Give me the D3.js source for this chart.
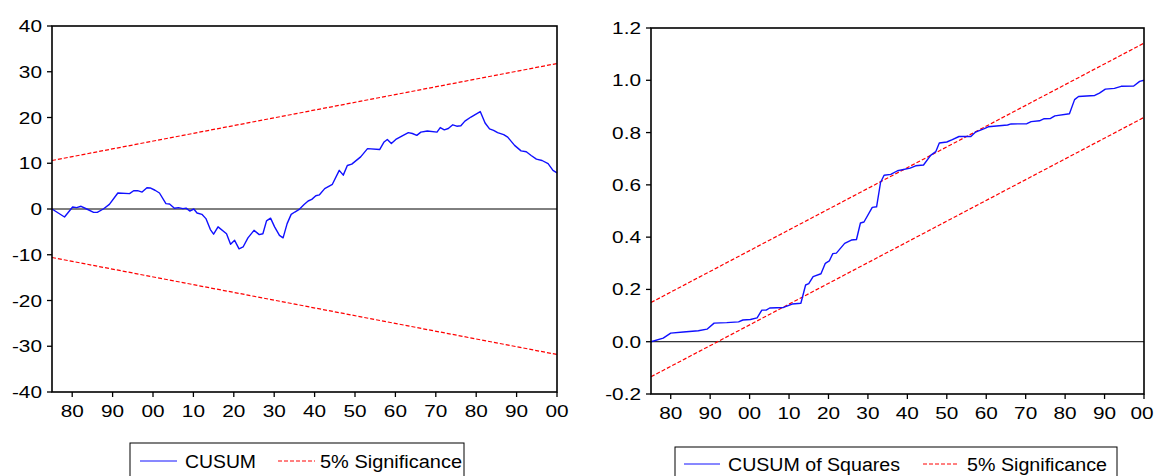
<!DOCTYPE html>
<html>
<head>
<meta charset="utf-8">
<script src="https://cdn.jsdelivr.net/npm/d3@7"></script>
<style>
  html, body { margin: 0; padding: 0; background: #fff; }
  svg text { font-family: "Liberation Sans", Arial, sans-serif; fill: #000; }
</style>
</head>
<body>
<svg id="chart" width="1154" height="476"></svg>
<script>
// ---------- DATA ----------
const cusumYears = [1975,1978.1,1980.1,1981.1,1982.2,1983.6,1985.3,1986.2,1987.7,1989.2,1991.3,1994.2,1995.2,1996.2,1997.3,1998.5,1999.3,2000.5,2001.6,2003.2,2004.1,2005.3,2006.3,2007.4,2008.2,2009.1,2010.1,2010.9,2012.1,2013.1,2014.2,2015.0,2016.1,2018.2,2019.2,2020.2,2021.3,2022.3,2023.5,2025.0,2026.3,2027.2,2028.1,2029.1,2030.1,2031.3,2032.2,2033.2,2034.2,2035.1,2036.1,2037.4,2038.4,2039.3,2040.3,2041.2,2042.5,2044.4,2046.1,2047.1,2048.1,2049.2,2051.4,2053.1,2056.1,2057.2,2058.0,2059.0,2060.1,2061.7,2063.2,2064.2,2065.3,2066.3,2067.9,2070.3,2071.1,2072.1,2073.1,2074.2,2075.2,2076.2,2077.2,2078.7,2081.0,2082.2,2083.3,2084.3,2085.3,2086.8,2087.8,2089.5,2091.1,2092.4,2093.6,2094.9,2096.3,2097.8,2099.0,2100];
const cusumValues = [0,-1.75,0.44,0.3,0.6,0,-0.73,-0.73,0,1.0,3.5,3.35,4.0,4.0,3.7,4.66,4.6,4.1,3.5,1.17,1.1,0.15,0.3,0.07,0.2,-0.44,0,-0.87,-1.17,-2.1,-4.5,-5.5,-3.9,-5.4,-7.7,-6.85,-8.7,-8.3,-6.3,-4.66,-5.6,-5.4,-2.6,-2.0,-3.9,-5.75,-6.3,-3.2,-1.17,-0.66,-0.15,1.0,1.75,2.1,2.9,3.1,4.45,5.4,8.45,7.4,9.5,9.8,11.4,13.2,13.0,14.65,15.2,14.3,15.2,16.0,16.7,16.5,16.1,16.8,17.05,16.8,17.8,17.3,17.6,18.4,18.1,18.2,19.2,20.1,21.3,18.8,17.5,17.2,16.7,16.25,15.7,13.9,12.7,12.5,11.7,10.9,10.6,9.9,8.45,7.9];

const sqYears = [1975,1978.1,1980.0,1983.2,1987.0,1989.2,1991.0,1994.2,1997.2,1998.3,2000.2,2001.9,2003.1,2004.2,2005.1,2008.6,2010.8,2013.0,2014.2,2015.0,2016.1,2018.1,2019.2,2020.2,2021.1,2022.0,2024.1,2025.8,2027.1,2028.1,2029.0,2031.1,2032.2,2033.2,2034.1,2035.8,2037.5,2040.7,2042.1,2044.1,2045.9,2047.2,2048.1,2050.0,2051.4,2053.1,2056.1,2057.3,2059.5,2060.5,2065.4,2066.3,2070.3,2071.4,2073.5,2074.7,2076.3,2077.4,2081.1,2082.4,2083.4,2087.5,2088.7,2090.2,2092.5,2094.2,2097.4,2098.9,2100];
const sqValues = [0,0.014,0.033,0.037,0.042,0.048,0.071,0.073,0.076,0.083,0.085,0.091,0.121,0.121,0.129,0.131,0.144,0.147,0.217,0.222,0.249,0.26,0.30,0.309,0.337,0.339,0.376,0.389,0.391,0.454,0.458,0.514,0.516,0.609,0.637,0.64,0.654,0.664,0.673,0.676,0.713,0.727,0.76,0.764,0.773,0.785,0.785,0.802,0.815,0.822,0.829,0.833,0.834,0.842,0.845,0.853,0.854,0.864,0.872,0.926,0.938,0.942,0.951,0.966,0.969,0.977,0.978,0.996,1.0];

const boundYears = [1975, 2100];
const cusumUpper = [10.6, 31.8];
const cusumLower = [-10.6, -31.8];
const sqUpper = [0.15, 1.142];
const sqLower = [-0.134, 0.858];

const xTickYears = [1980,1990,2000,2010,2020,2030,2040,2050,2060,2070,2080,2090,2100];
const cusumYTicks = [-40,-30,-20,-10,0,10,20,30,40];
const sqYTicks = [-0.2,0,0.2,0.4,0.6,0.8,1.0,1.2];

const legend1 = ["CUSUM", "5% Significance"];
const legend2 = ["CUSUM of Squares", "5% Significance"];

// ---------- DRAW ----------
const svg = d3.select("#chart");
const BLUE = "#1010ff", RED = "#ff0000";
const SX = 1.3; // horizontal text stretch
const hy = f => v => f(v).replace("\u2212", "-");

function panel(cfg) {
  const x = d3.scaleLinear().domain([1975, 2100]).range([cfg.x0, cfg.x1]);
  const y = d3.scaleLinear().domain(cfg.yDomain).range([cfg.y1, cfg.y0]);
  const g = svg.append("g");

  // zero line
  g.append("line")
    .attr("x1", cfg.x0).attr("x2", cfg.x1)
    .attr("y1", y(0)).attr("y2", y(0))
    .attr("stroke", "#000").attr("stroke-width", 1);

  // bounds
  const line = d3.line().x(d => x(d[0])).y(d => y(d[1]));
  [cfg.upper, cfg.lower].forEach(b => {
    g.append("path")
      .datum(boundYears.map((yr, i) => [yr, b[i]]))
      .attr("d", line)
      .attr("fill", "none").attr("stroke", RED)
      .attr("stroke-width", 1.2).attr("stroke-dasharray", "4,2");
  });

  // series
  g.append("path")
    .datum(cfg.years.map((yr, i) => [yr, cfg.values[i]]))
    .attr("d", line)
    .attr("fill", "none").attr("stroke", BLUE)
    .attr("stroke-width", 1.4).attr("stroke-linejoin", "round");

  // frame
  g.append("rect")
    .attr("x", cfg.x0).attr("y", cfg.y0)
    .attr("width", cfg.x1 - cfg.x0).attr("height", cfg.y1 - cfg.y0)
    .attr("fill", "none").attr("stroke", "#000").attr("stroke-width", 1.6);

  // y ticks
  const ya = g.append("g");
  cfg.yTicks.forEach(t => {
    ya.append("line").attr("x1", cfg.x0 - 5).attr("x2", cfg.x0)
      .attr("y1", y(t)).attr("y2", y(t)).attr("stroke", "#000").attr("stroke-width", 1.3);
    ya.append("text")
      .attr("transform", `translate(${cfg.x0 - 10},${y(t) + 6}) scale(${SX},1)`)
      .attr("text-anchor", "end").attr("font-size", 16)
      .text(cfg.yFmt(t));
  });
  // x ticks
  const xa = g.append("g");
  xTickYears.forEach((t, i) => {
    xa.append("line").attr("x1", x(t)).attr("x2", x(t))
      .attr("y1", cfg.y1).attr("y2", cfg.y1 + 5).attr("stroke", "#000").attr("stroke-width", 1.3);
    const shift = (i === xTickYears.length - 1) ? cfg.lastShift : 0;
    xa.append("text")
      .attr("transform", `translate(${x(t) + shift},${cfg.y1 + 25}) scale(${SX},1)`)
      .attr("text-anchor", "middle").attr("font-size", 16)
      .text(String(t % 100).padStart(2, "0"));
  });

  // legend
  const L = cfg.legend;
  const lg = g.append("g");
  lg.append("rect").attr("x", L.x).attr("y", L.y).attr("width", L.w).attr("height", 40)
    .attr("fill", "#fff").attr("stroke", "#000").attr("stroke-width", 1);
  lg.append("line").attr("x1", L.l1[0]).attr("x2", L.l1[1]).attr("y1", L.ly).attr("y2", L.ly)
    .attr("stroke", BLUE).attr("stroke-width", 1);
  lg.append("line").attr("x1", L.l2[0]).attr("x2", L.l2[1]).attr("y1", L.ly).attr("y2", L.ly)
    .attr("stroke", RED).attr("stroke-width", 1).attr("stroke-dasharray", "4,2");
  lg.append("text").attr("x", L.t1[0]).attr("y", L.ty).attr("font-size", 18)
    .attr("textLength", L.t1[1]).attr("lengthAdjust", "spacingAndGlyphs").text(cfg.labels[0]);
  lg.append("text").attr("x", L.t2[0]).attr("y", L.ty).attr("font-size", 18)
    .attr("textLength", L.t2[1]).attr("lengthAdjust", "spacingAndGlyphs").text(cfg.labels[1]);
}

panel({
  x0: 52, x1: 557, y0: 26, y1: 392, lastShift: 0,
  yDomain: [-40, 40], yTicks: cusumYTicks, yFmt: hy(d3.format("d")),
  years: cusumYears, values: cusumValues,
  upper: cusumUpper, lower: cusumLower,
  labels: legend1,
  legend: { x: 130, y: 443, w: 334, ly: 461, ty: 468,
            l1: [140, 177], l2: [278, 315], t1: [185, 71], t2: [320, 142] }
});

panel({
  x0: 651, x1: 1144, y0: 28, y1: 394, lastShift: -2,
  yDomain: [-0.2, 1.2], yTicks: sqYTicks, yFmt: hy(d3.format(".1f")),
  years: sqYears, values: sqValues,
  upper: sqUpper, lower: sqLower,
  labels: legend2,
  legend: { x: 675, y: 447, w: 442, ly: 464, ty: 471,
            l1: [684, 720], l2: [923, 958], t1: [728, 172], t2: [967, 140] }
});
</script>
</body>
</html>
